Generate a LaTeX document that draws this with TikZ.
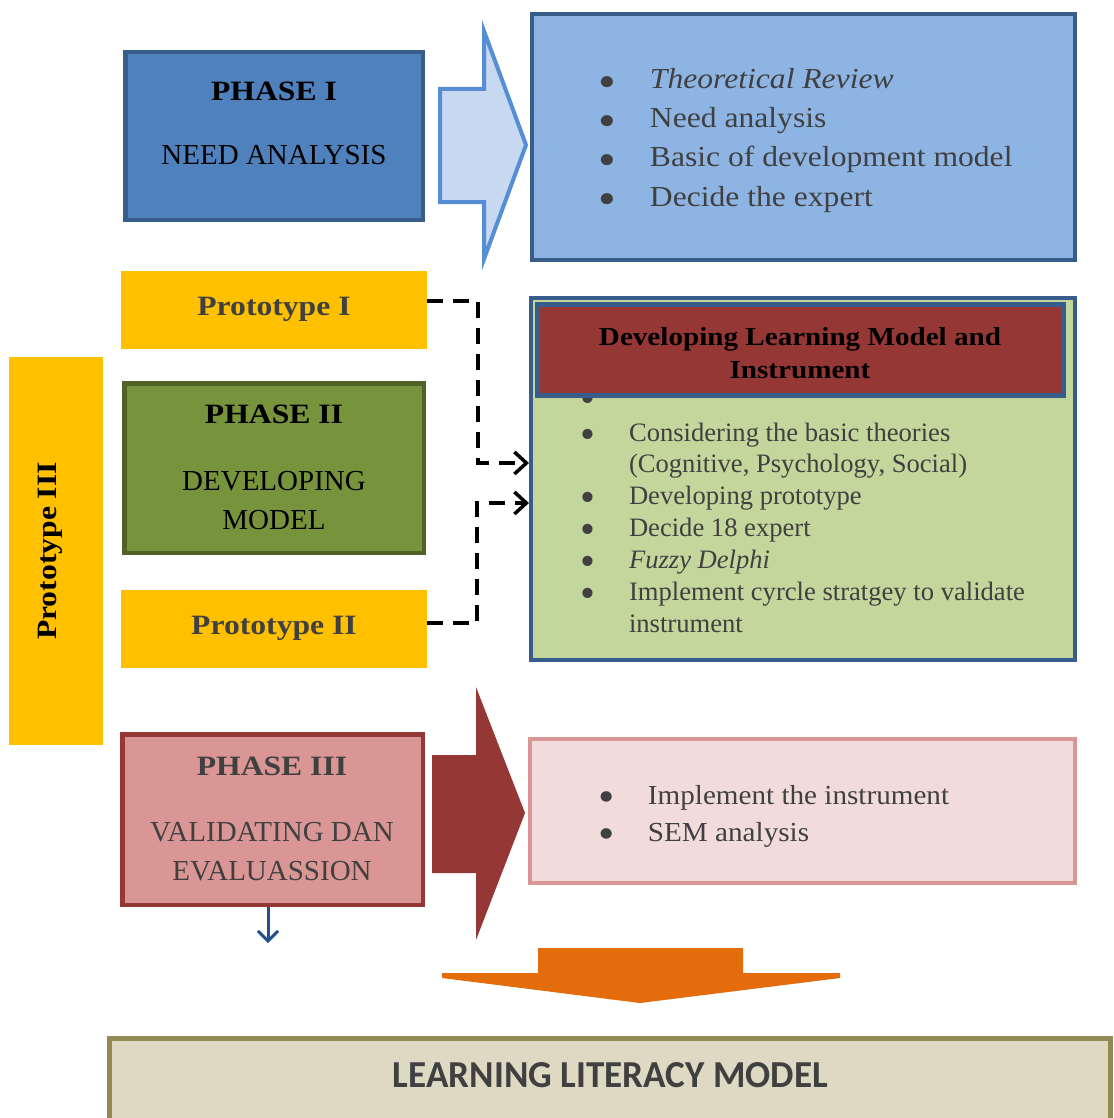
\documentclass[tikz,border=0pt]{standalone}
\usepackage{fontspec}
\usepackage{graphicx}
\setmainfont{Liberation Serif}
\newfontfamily\calfont{Carlito}
\usetikzlibrary{arrows.meta,calc}
\definecolor{pAline}{HTML}{385D8A}
\definecolor{pAfill}{HTML}{4F81BD}
\definecolor{bluebox}{HTML}{8EB4E3}
\definecolor{arrowfill}{HTML}{C6D9F1}
\definecolor{arrowline}{HTML}{558ED5}
\definecolor{proto}{HTML}{FFC000}
\definecolor{pBfill}{HTML}{77933C}
\definecolor{pBline}{HTML}{4F6228}
\definecolor{greenbox}{HTML}{C3D69B}
\definecolor{hdrred}{HTML}{953735}
\definecolor{pCfill}{HTML}{D99694}
\definecolor{pinkbox}{HTML}{F2DCDB}
\definecolor{arroworange}{HTML}{E46C0A}
\definecolor{finalfill}{HTML}{DDD9C3}
\definecolor{finalline}{HTML}{948A54}
\definecolor{txtgray}{HTML}{404040}
\definecolor{smallarrow}{HTML}{254F8A}
\newcommand{\fsz}[1]{\fontsize{#1}{#1}\selectfont}
\newcommand{\sx}[2]{\scalebox{#1}[1]{#2}}
\newcommand{\bul}{\hspace*{-0.1em}\smash{\raisebox{-0.28em}{\scalebox{1.6}{\textbullet}}}}
\begin{document}
\begin{tikzpicture}[x=1pt,y=-1pt,
  box/.style={rectangle, inner sep=0pt, outer sep=0pt},
  lbl/.style={inner sep=0pt, outer sep=0pt, anchor=base},
  item/.style={inner sep=0pt, outer sep=0pt, anchor=base west, text=txtgray},
  bluetxt/.style={item, font=\fsz{29}},
  greentxt/.style={item, font=\fsz{26.6}},
  pinktxt/.style={item, font=\fsz{27.5}},
  headbold/.style={lbl, font=\fsz{28}\bfseries},
  phasetxt/.style={lbl, font=\fsz{29}},
  dashconn/.style={line width=3.5pt, dash pattern=on 16pt off 10pt,
    -{Straight Barb[length=12pt,width=22pt,line width=3.5pt]}},
]
\useasboundingbox (0,0) rectangle (1113,1118);

% ---------- Phase I ----------
\node[box, draw=pAline, line width=4.5pt, fill=pAfill,
  minimum width=297.5pt, minimum height=167.5pt] (ph1) at (274,136) {};
\node[headbold] (ph1a) at (274,100.5) {\sx{1.13}{PHASE I}};
\node[phasetxt] (ph1b) at (274,165) {NEED ANALYSIS};

\draw[draw=arrowline, fill=arrowfill, line width=4pt]
  (440,89) -- (484,89) -- (484,31) -- (526,145) -- (484,259) -- (484,202) -- (440,202) -- cycle;

\node[box, draw=pAline, line width=4pt, fill=bluebox,
  minimum width=543pt, minimum height=246pt] (need) at (803.5,137) {};
\node[bluetxt] (n1) at (602,89) {\sx{1.09}{\makebox[44pt][l]{\bul}\textit{Theoretical Review}}};
\node[bluetxt] (n2) at (602,128) {\sx{1.09}{\makebox[44pt][l]{\bul}Need analysis}};
\node[bluetxt] (n3) at (602,167) {\sx{1.09}{\makebox[44pt][l]{\bul}Basic of development model}};
\node[bluetxt] (n4) at (602,206) {\sx{1.09}{\makebox[44pt][l]{\bul}Decide the expert}};

% ---------- Prototypes ----------
\node[box, fill=proto, minimum width=306pt, minimum height=78pt] (p1) at (274,310) {};
\node[headbold, text=txtgray] (p1t) at (274,315) {\sx{1.13}{Prototype I}};
\node[box, fill=proto, minimum width=306pt, minimum height=78pt] (p2) at (274,629) {};
\node[headbold, text=txtgray] (p2t) at (274,634) {\sx{1.13}{Prototype II}};
\node[box, fill=proto, minimum width=94pt, minimum height=388pt] (p3) at (56,551) {};
\node[font=\fsz{28}\bfseries, rotate=90, inner sep=0pt] (p3t) at (50,551) {\sx{1.13}{Prototype III}};

% ---------- Phase II ----------
\node[box, draw=pBline, line width=4.5pt, fill=pBfill,
  minimum width=299.5pt, minimum height=169.5pt] (ph2) at (274,468) {};
\node[headbold] (ph2a) at (274,423) {\sx{1.13}{PHASE II}};
\node[phasetxt] (ph2b) at (274,490) {DEVELOPING};
\node[phasetxt] (ph2c) at (274,529) {MODEL};

% ---------- Developing box ----------
\node[box, draw=pAline, line width=4pt, fill=greenbox,
  minimum width=544pt, minimum height=362pt] (dev) at (803,479) {};
\node[greentxt] (g0) at (583,405) {\bul};
\node[box, draw=pAline, line width=5pt, fill=hdrred,
  minimum width=526pt, minimum height=91pt] (hdr) at (800.5,350) {};
\node[lbl, font=\fsz{26}\bfseries] (hdra) at (800,345) {\sx{1.12}{Developing Learning Model and}};
\node[lbl, font=\fsz{26}\bfseries] (hdrb) at (800,378) {\sx{1.12}{Instrument}};
\node[greentxt] (g1) at (583,441) {\makebox[46pt][l]{\bul}Considering the basic theories};
\node[greentxt] (g1b) at (629,472) {(Cognitive, Psychology, Social)};
\node[greentxt] (g2) at (583,504) {\makebox[46pt][l]{\bul}Developing prototype};
\node[greentxt] (g3) at (583,536) {\makebox[46pt][l]{\bul}Decide 18 expert};
\node[greentxt] (g4) at (583,568) {\makebox[46pt][l]{\bul}\textit{Fuzzy Delphi}};
\node[greentxt] (g5) at (583,600) {\makebox[46pt][l]{\bul}Implement cyrcle stratgey to validate};
\node[greentxt] (g5b) at (629,632) {instrument};

% ---------- dashed connectors ----------
\coordinate (ya) at (0,463);
\coordinate (yb) at (0,503);
\draw[dashconn] ($(p1.east)+(0,-9)$) -- (478,301) |- ($(dev.west |- ya)+(-2,0)$);
\draw[dashconn] ($(p2.east)+(0,-6)$) -- (477,623) |- ($(dev.west |- yb)+(-2,0)$);

% ---------- Phase III ----------
\node[box, draw=hdrred, line width=4.5pt, fill=pCfill,
  minimum width=300.5pt, minimum height=170.5pt] (ph3) at (272.5,819.5) {};
\node[headbold, text=txtgray] (ph3a) at (272,775) {\sx{1.13}{PHASE III}};
\node[phasetxt, text=txtgray] (ph3b) at (272,841.5) {VALIDATING DAN};
\node[phasetxt, text=txtgray] (ph3c) at (272,880.5) {EVALUASSION};

\fill[hdrred] (432,755) -- (476,755) -- (476,687) -- (525,813) -- (476,940) -- (476,873) -- (432,873) -- cycle;

\node[box, draw=pCfill, line width=4pt, fill=pinkbox,
  minimum width=545pt, minimum height=144pt] (sem) at (802.5,811) {};
\node[pinktxt] (s1) at (601,804) {\sx{1.06}{\makebox[44.3pt][l]{\bul}Implement the instrument}};
\node[pinktxt] (s2) at (601,841) {\sx{1.06}{\makebox[44.3pt][l]{\bul}SEM analysis}};

\coordinate (dn) at (268,943);
\draw[smallarrow, line width=3pt, -{Straight Barb[length=10pt,width=20pt,line width=3pt]}]
  ($(ph3.south -| dn)+(0,2.25)$) -- (dn);

% ---------- orange arrow ----------
\fill[arroworange] (538,948) -- (743,948) -- (743,973) -- (840,973) -- (840,978)
  -- (640,1003) -- (442,978) -- (442,973) -- (538,973) -- cycle;

% ---------- final box ----------
\node[box, draw=finalline, line width=5pt, fill=finalfill, anchor=north west,
  minimum width=1001pt, minimum height=100pt] (final) at (109.5,1038.5) {};
\node[lbl, font=\calfont\bfseries, text=txtgray] (finalt) at (610.5,1087)
  {\resizebox{435pt}{25pt}{LEARNING LITERACY MODEL}};
\end{tikzpicture}
\end{document}
